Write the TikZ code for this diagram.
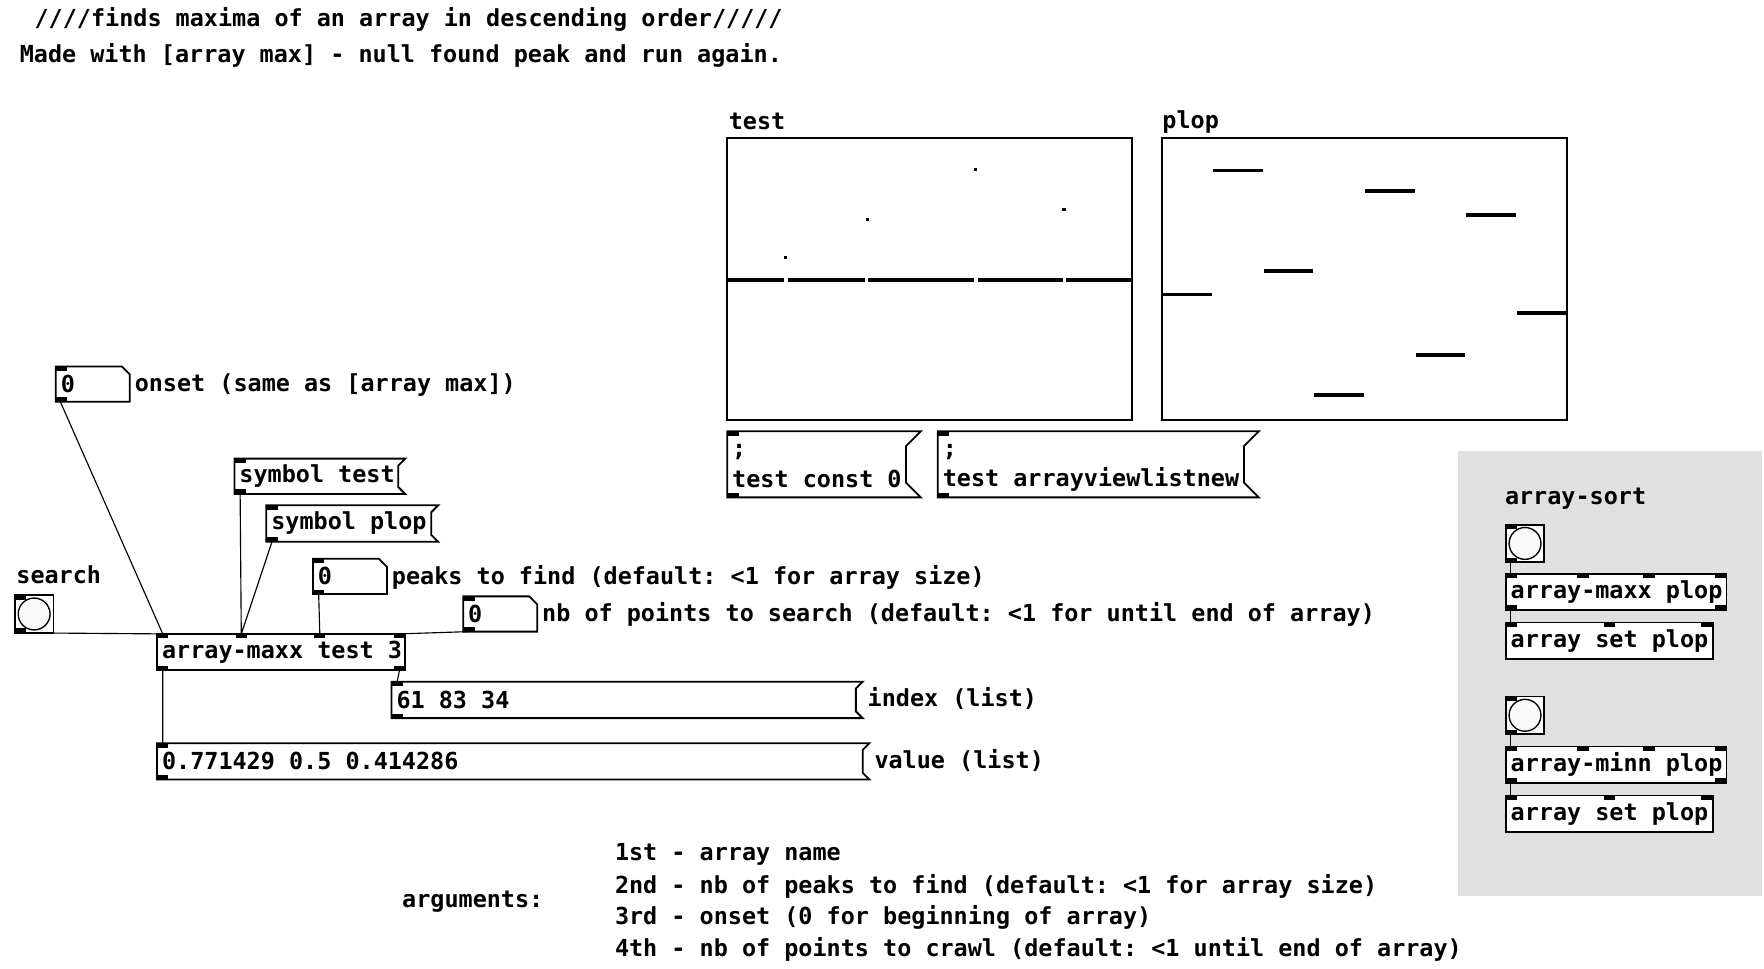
\documentclass[tikz,border=0pt]{standalone}
\usepackage{fontspec}
\setmonofont{DejaVu Sans Mono}
\usetikzlibrary{positioning}
\definecolor{canvasgray}{HTML}{E0E0E0}
\tikzset{pdtext/.style={font=\ttfamily\bfseries\fontsize{10.3}{12}\selectfont, inner sep=0pt, anchor=west},
         pdbox/.style={draw, line width=0.8pt, fill=white},
         pdwire/.style={line width=0.5pt},
         pdplot/.style={line width=1.5pt}}
% inlet / outlet tab
\newcommand\iolet[2]{\fill (#1,#2) rectangle +(10,4);}
% object box: name, x1, y1, x2, y2, text
\newcommand\pdobject[6]{\draw[pdbox] (#2,#3) rectangle (#4,#5);
  \node[pdtext] (#1) at (#2+4,{(#3+#5)/2}) {#6};}
% message box
\newcommand\pdmsg[6]{\draw[pdbox] (#2,#3) -- (#4+6,#3) -- (#4,#3+6) -- (#4,#5-6) -- (#4+6,#5) -- (#2,#5) -- cycle;
  \node[pdtext] (#1) at (#2+4,{(#3+#5)/2}) {#6};}
% number box
\newcommand\pdnum[5]{\draw[pdbox] (#2,#3) -- (#4-7,#3) -- (#4,#3+7) -- (#4,#5) -- (#2,#5) -- cycle;
  \node[pdtext] (#1) at (#2+4,{(#3+#5)/2}) {0};}
% bang
\newcommand\pdbang[3]{\draw[pdbox] (#2,#3) rectangle +(34,33);
  \draw[line width=0.6pt, fill=gray!5] (#2+17,#3+16.5) circle (14);
  \coordinate (#1) at (#2+2,#3+33);}

\begin{document}
\begin{tikzpicture}[x=0.5pt,y=-0.5pt]
  \useasboundingbox (0,0) rectangle (1550,851);
  % comments
  \node[pdtext] (title) at (30,17) {////finds maxima of an array in descending order/////};
  \node[pdtext] (made) at (17,49) {Made with [array max] - null found peak and run again.};

  % arrays
  \node[pdtext] (testlbl) at (640,107) {test};
  \draw[line width=0.8pt] (639,121) rectangle (995,369);
  \foreach \a/\b in {639/689,692/760,763/856,859/934,937/995}
    \draw[pdplot] (\a,246) -- (\b,246);
  \foreach \px/\py in {690/226,762/193,857/149,935/184}
    \fill (\px-1.5,\py-1.5) rectangle +(3,3);
  \node[pdtext] (ploplbl) at (1021,107) {plop};
  \draw[line width=0.8pt] (1021,121) rectangle (1377,369);
  \foreach \i/\py in {0/259,1/150,2/238,3/347,4/168,5/312,6/189,7/275}
    \draw[pdplot] (1021+\i*44.5+0.5,\py) -- (1021+\i*44.5+44,\py);

  % messages to the arrays
  \draw[pdbox] (639,379) -- (809,379) -- (796,392) -- (796,424) -- (809,437) -- (639,437) -- cycle;
  \node[pdtext] (constsemi) at (643,397) {;};
  \node[pdtext] (constmsg) at (643,421) {test const 0};
  \iolet{639}{379} \iolet{639}{433}
  \draw[pdbox] (824,379) -- (1106,379) -- (1093,392) -- (1093,424) -- (1106,437) -- (824,437) -- cycle;
  \node[pdtext] (listsemi) at (828,397) {;};
  \node[pdtext] (listmsg) at (828,421) {test arrayviewlistnew};
  \iolet{824}{379} \iolet{824}{433}

  % sort subpatch
  \fill[canvasgray] (1281,396) rectangle (1548,787);
  \node[pdtext] (sortlbl) at (1322,438) {array-sort};
  \pdbang{bangA}{1323}{461}
  \pdobject{maxxplop}{1323}{504}{1517}{536}{array-maxx plop}
  \pdobject{setA}{1323}{547}{1505}{579}{array set plop}
  \pdbang{bangB}{1323}{612}
  \pdobject{minnplop}{1323}{656}{1517}{688}{array-minn plop}
  \pdobject{setB}{1323}{699}{1505}{731}{array set plop}
  \foreach \y in {504,656} {\iolet{1323}{\y} \iolet{1386}{\y} \iolet{1444}{\y} \iolet{1507}{\y}
    \iolet{1323}{\y+28} \iolet{1507}{\y+28} \iolet{1323}{\y+43} \iolet{1409}{\y+43} \iolet{1495}{\y+43}}
  \foreach \y in {461,612} {\iolet{1323}{\y} \iolet{1323}{\y+29}}
  \draw[pdwire] (1327,494) -- (1327,504) (1327,536) -- (1327,547)
                (1327,645) -- (1327,656) (1327,688) -- (1327,699);

  % main patch
  \pdnum{onset}{49}{322}{114}{353}
  \node[pdtext] (onsetlbl) at (118,338) {onset (same as [array max])};
  \pdmsg{symtest}{206}{403}{350}{434}{symbol test}
  \pdmsg{symplop}{234}{444}{379}{476}{symbol plop}
  \pdnum{peaks}{275}{491}{340}{522}
  \node[pdtext] (peakslbl) at (344,507) {peaks to find (default: <1 for array size)};
  \pdnum{points}{407}{524}{472}{555}
  \node[pdtext] (pointslbl) at (476,540) {nb of points to search (default: <1 for until end of array)};
  \node[pdtext] (searchlbl) at (14,505) {search};
  \pdbang{search}{13}{523}
  \pdobject{maxx}{138}{557}{356}{589}{array-maxx test 3}
  \pdmsg{index}{344}{599}{752}{631}{61 83 34}
  \node[pdtext] (indexlbl) at (762,614) {index (list)};
  \pdmsg{value}{138}{653}{758}{685}{0.771429 0.5 0.414286}
  \node[pdtext] (valuelbl) at (768,668) {value (list)};

  % tabs
  \iolet{49}{322} \iolet{49}{349} \iolet{275}{491} \iolet{275}{518}
  \iolet{407}{524} \iolet{407}{551} \iolet{13}{523} \iolet{13}{552}
  \iolet{206}{403} \iolet{206}{430} \iolet{234}{444} \iolet{234}{472}
  \iolet{138}{557} \iolet{207}{557} \iolet{276}{557} \iolet{346}{557}
  \iolet{138}{585} \iolet{346}{585}
  \iolet{344}{599} \iolet{344}{627} \iolet{138}{653} \iolet{138}{681}

  % wires
  \coordinate (in1) at (143,557); \coordinate (in2) at (212,557);
  \coordinate (in3) at (281,557); \coordinate (in4) at (351,557);
  \coordinate (out1) at (143,589); \coordinate (out2) at (351,589);
  \coordinate (onsetout) at (53,353); \coordinate (peaksout) at (280,522);
  \coordinate (pointsout) at (411,555); \coordinate (testout) at (211,434);
  \coordinate (plopout) at (239,476); \coordinate (searchout) at (15,556);
  \coordinate (indexin) at (349,599); \coordinate (valuein) at (143,653);
  \draw[pdwire] (onsetout) -- (in1) (searchout) -- (in1) (testout) -- (in2)
                (plopout) -- (in2) (peaksout) -- (in3) (pointsout) -- (in4)
                (out1) -- (valuein) (out2) -- (indexin);

  % arguments
  \node[pdtext] (argslbl) at (353,792) {arguments:};
  \node[pdtext] (arg1) at (540,751) {1st - array name};
  \node[pdtext] (arg2) at (540,779) {2nd - nb of peaks to find (default: <1 for array size)};
  \node[pdtext] (arg3) at (540,806) {3rd - onset (0 for beginning of array)};
  \node[pdtext] (arg4) at (540,834) {4th - nb of points to crawl (default: <1 until end of array)};
\end{tikzpicture}
\end{document}
